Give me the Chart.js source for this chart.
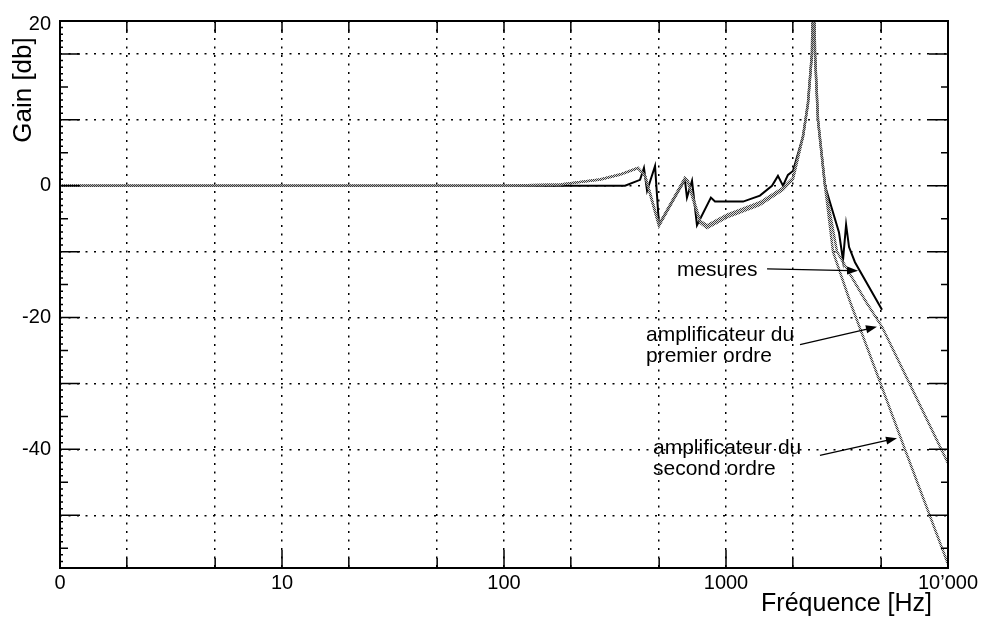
<!DOCTYPE html>
<html>
<head>
<meta charset="utf-8">
<script src="https://cdn.jsdelivr.net/npm/chart.js@4.4.1/dist/chart.umd.min.js"></script>
<style>
  html, body { margin: 0; padding: 0; background: #fff; }
  #wrap { width: 989px; height: 621px; }
</style>
</head>
<body>
<div id="wrap"><canvas id="gainChart" width="989" height="621"></canvas></div>
<script>
// Axis ticks and labels (x is log, "0" is written at 1 Hz)
const X_TICKS = [1, 2, 5, 10, 20, 50, 100, 200, 500, 1000, 2000, 5000, 10000];
const X_LABEL_VALUES = [1, 10, 100, 1000, 10000];
const X_LABEL_TEXT   = ['0', '10', '100', '1000', '10’000'];
const Y_TICKS = [-50, -40, -30, -20, -10, 0, 10, 20, 24.4];
const Y_LABEL_VALUES = [-40, -20, 0, 24.4];
const Y_LABEL_TEXT   = ['-40', '-20', '0', '20'];

// mesures
const MES_FREQ = [1, 351, 410, 427, 441, 479, 499, 653, 667, 703, 740, 855, 892, 1194, 1422, 1611, 1714,
                  1806, 1901, 2003, 2223, 2340, 2438, 2478, 2518, 2596, 2793, 3229, 3365, 3475, 3583, 3810, 5043];
const MES_GAIN = [0, 0, 0.9, 2.7, -0.75, 3.0, -5.9, 0.9, -1.8, 0.75, -6.0, -1.8, -2.4, -2.4, -1.5, 0, 1.5,
                  0, 1.65, 2.25, 7.5, 12.5, 20, 34, 20, 10, 0, -7.1, -11.3, -5.9, -9.3, -11.6, -18.8];

// amplificateur du premier ordre
const P1_FREQ = [1, 100, 179, 200, 271, 333, 401, 432, 499, 653, 674, 764, 821, 1011, 1422, 1806, 2003,
                 2223, 2340, 2438, 2478, 2518, 2596, 2793, 3162, 4273, 5043, 7100, 10000];
const P1_GAIN = [0, 0, 0.2, 0.4, 0.95, 1.7, 2.7, 1.5, -5.9, 1.2, 0.75, -5.3, -6.0, -4.4, -2.5, -0.3, 1.2,
                 7.5, 12.5, 20, 34, 20, 10, 0, -10, -17.6, -21.4, -31.7, -42.1];

// amplificateur du second ordre
const P2_FREQ = [1, 100, 179, 200, 271, 333, 401, 432, 499, 653, 674, 764, 821, 1011, 1422, 1806, 2003,
                 2223, 2340, 2438, 2478, 2518, 2596, 2793, 3034, 3622, 4943, 6398, 10000];
const P2_GAIN = [0, 0, 0.2, 0.4, 0.95, 1.7, 2.7, 1.5, -6.1, 1.0, 0.5, -5.6, -6.4, -4.8, -2.9, -0.6, 1.0,
                 7.5, 12.5, 20, 34, 20, 10, 0, -10, -17.6, -29.8, -40, -57.4];

// Annotation labels and arrows (data coordinates)
const NOTE_TEXT  = [['mesures'], ['amplificateur du', 'premier ordre'], ['amplificateur du', 'second ordre']];
const NOTE_FREQ  = [601, 436, 469];
const NOTE_GAIN  = [-12.8, -22.7, -39.8];
const ARROW_FROM_F = [1531, 2154, 2650];
const ARROW_FROM_G = [-12.6, -24.1, -40.9];
const ARROW_TO_F   = [3934, 4786, 5892];
const ARROW_TO_G   = [-12.9, -21.4, -38.3];

const FONT = "'Liberation Sans', Arial, Helvetica, sans-serif";

const zip = (xs, ys) => xs.map((v, i) => ({ x: v, y: ys[i] }));

// dithered grey line like the scanned plot
function hatchPattern(ctx) {
  const pc = document.createElement('canvas');
  pc.width = 2; pc.height = 2;
  const g = pc.getContext('2d');
  g.fillStyle = '#3a3a3a';
  g.fillRect(0, 0, 1, 1);
  g.fillRect(1, 1, 1, 1);
  g.fillStyle = 'rgba(200,200,200,0.6)';
  g.fillRect(1, 0, 1, 1);
  g.fillRect(0, 1, 1, 1);
  return ctx.createPattern(pc, 'repeat');
}

const framePlugin = {
  id: 'frame',
  afterDatasetsDraw(chart) {
    const { ctx, chartArea: a, scales: { x, y } } = chart;
    ctx.save();
    ctx.strokeStyle = '#000';
    ctx.lineWidth = 1.5;
    ctx.beginPath();
    // inner ticks on bottom and top
    X_TICKS.forEach(v => {
      const px = x.getPixelForValue(v);
      const len = X_LABEL_VALUES.includes(v) ? 18 : 10;
      ctx.moveTo(px, a.bottom); ctx.lineTo(px, a.bottom - len);
      ctx.moveTo(px, a.top); ctx.lineTo(px, a.top + 12);
    });
    // inner ticks on left and right
    for (let v = -58; v <= 24; v++) {
      const py = y.getPixelForValue(v);
      let left = 3, right = 0;
      if (v % 10 === 0) { left = 20; right = 19; }
      else if (v % 5 === 0) { left = 8; right = 7; }
      ctx.moveTo(a.left, py); ctx.lineTo(a.left + left, py);
      if (right) { ctx.moveTo(a.right, py); ctx.lineTo(a.right - right, py); }
    }
    ctx.stroke();

    ctx.lineWidth = 2;
    ctx.strokeRect(a.left, a.top, a.right - a.left, a.bottom - a.top);

    // annotations
    ctx.fillStyle = '#000';
    ctx.font = '21px ' + FONT;
    ctx.textAlign = 'left';
    ctx.textBaseline = 'middle';
    NOTE_TEXT.forEach((lines, i) => {
      const tx = x.getPixelForValue(NOTE_FREQ[i]);
      const ty = y.getPixelForValue(NOTE_GAIN[i]);
      lines.forEach((t, k) => ctx.fillText(t, tx, ty + k * 21));

      const x0 = x.getPixelForValue(ARROW_FROM_F[i]), y0 = y.getPixelForValue(ARROW_FROM_G[i]);
      const x1 = x.getPixelForValue(ARROW_TO_F[i]),   y1 = y.getPixelForValue(ARROW_TO_G[i]);
      const ang = Math.atan2(y1 - y0, x1 - x0);
      ctx.lineWidth = 1.2;
      ctx.beginPath();
      ctx.moveTo(x0, y0);
      ctx.lineTo(x1 - 8 * Math.cos(ang), y1 - 8 * Math.sin(ang));
      ctx.stroke();
      ctx.beginPath();
      ctx.moveTo(x1, y1);
      ctx.lineTo(x1 - 11 * Math.cos(ang) + 4 * Math.sin(ang), y1 - 11 * Math.sin(ang) - 4 * Math.cos(ang));
      ctx.lineTo(x1 - 11 * Math.cos(ang) - 4 * Math.sin(ang), y1 - 11 * Math.sin(ang) + 4 * Math.cos(ang));
      ctx.closePath();
      ctx.fill();
    });

    // axis titles
    ctx.font = '25px ' + FONT;
    ctx.textAlign = 'right';
    ctx.fillText('Fréquence [Hz]', 932, 604);
    ctx.save();
    ctx.translate(24, 90);
    ctx.rotate(-Math.PI / 2);
    ctx.font = '26px ' + FONT;
    ctx.textAlign = 'center';
    ctx.fillText('Gain [db]', 0, 0);
    ctx.restore();
    ctx.restore();
  }
};

const ctx = document.getElementById('gainChart').getContext('2d');
const hatch = hatchPattern(ctx);

new Chart(ctx, {
  type: 'line',
  data: {
    datasets: [
      {
        label: 'amplificateur du second ordre',
        data: zip(P2_FREQ, P2_GAIN),
        borderColor: hatch, borderWidth: 2.5,
        pointRadius: 0, tension: 0, order: 1
      },
      {
        label: 'amplificateur du premier ordre',
        data: zip(P1_FREQ, P1_GAIN),
        borderColor: hatch, borderWidth: 2.5,
        pointRadius: 0, tension: 0, order: 2
      },
      {
        label: 'mesures',
        data: zip(MES_FREQ, MES_GAIN),
        borderColor: '#000', borderWidth: 2,
        pointRadius: 0, tension: 0, order: 3
      }
    ]
  },
  options: {
    responsive: false,
    animation: false,
    parsing: false,
    layout: { padding: { top: 17, right: 41, left: 0, bottom: 0 } },
    plugins: { legend: { display: false }, tooltip: { enabled: false } },
    scales: {
      x: {
        type: 'logarithmic', min: 1, max: 10000,
        afterBuildTicks: s => { s.ticks = X_TICKS.map(v => ({ value: v })); },
        afterFit: s => { s.height = 53; },
        grid: { color: '#000', lineWidth: 1.5, drawTicks: false },
        border: { display: false, dash: [2, 6.5] },
        ticks: {
          autoSkip: false, maxRotation: 0, padding: 3, color: '#000',
          font: { family: FONT, size: 20 },
          callback: v => {
            const i = X_LABEL_VALUES.indexOf(v);
            return i >= 0 ? X_LABEL_TEXT[i] : '';
          }
        }
      },
      y: {
        type: 'linear', min: -58, max: 25,
        afterBuildTicks: s => { s.ticks = Y_TICKS.map(v => ({ value: v })); },
        afterFit: s => { s.width = 60; },
        grid: {
          color: c => (c.tick && c.tick.value > 20 ? 'rgba(0,0,0,0)' : '#000'),
          lineWidth: 1.5, drawTicks: false
        },
        border: { display: false, dash: [2, 6.5] },
        ticks: {
          padding: 9, color: '#000',
          font: { family: FONT, size: 20 },
          callback: v => {
            const i = Y_LABEL_VALUES.indexOf(v);
            return i >= 0 ? Y_LABEL_TEXT[i] : '';
          }
        }
      }
    }
  },
  plugins: [framePlugin]
});
</script>
</body>
</html>
